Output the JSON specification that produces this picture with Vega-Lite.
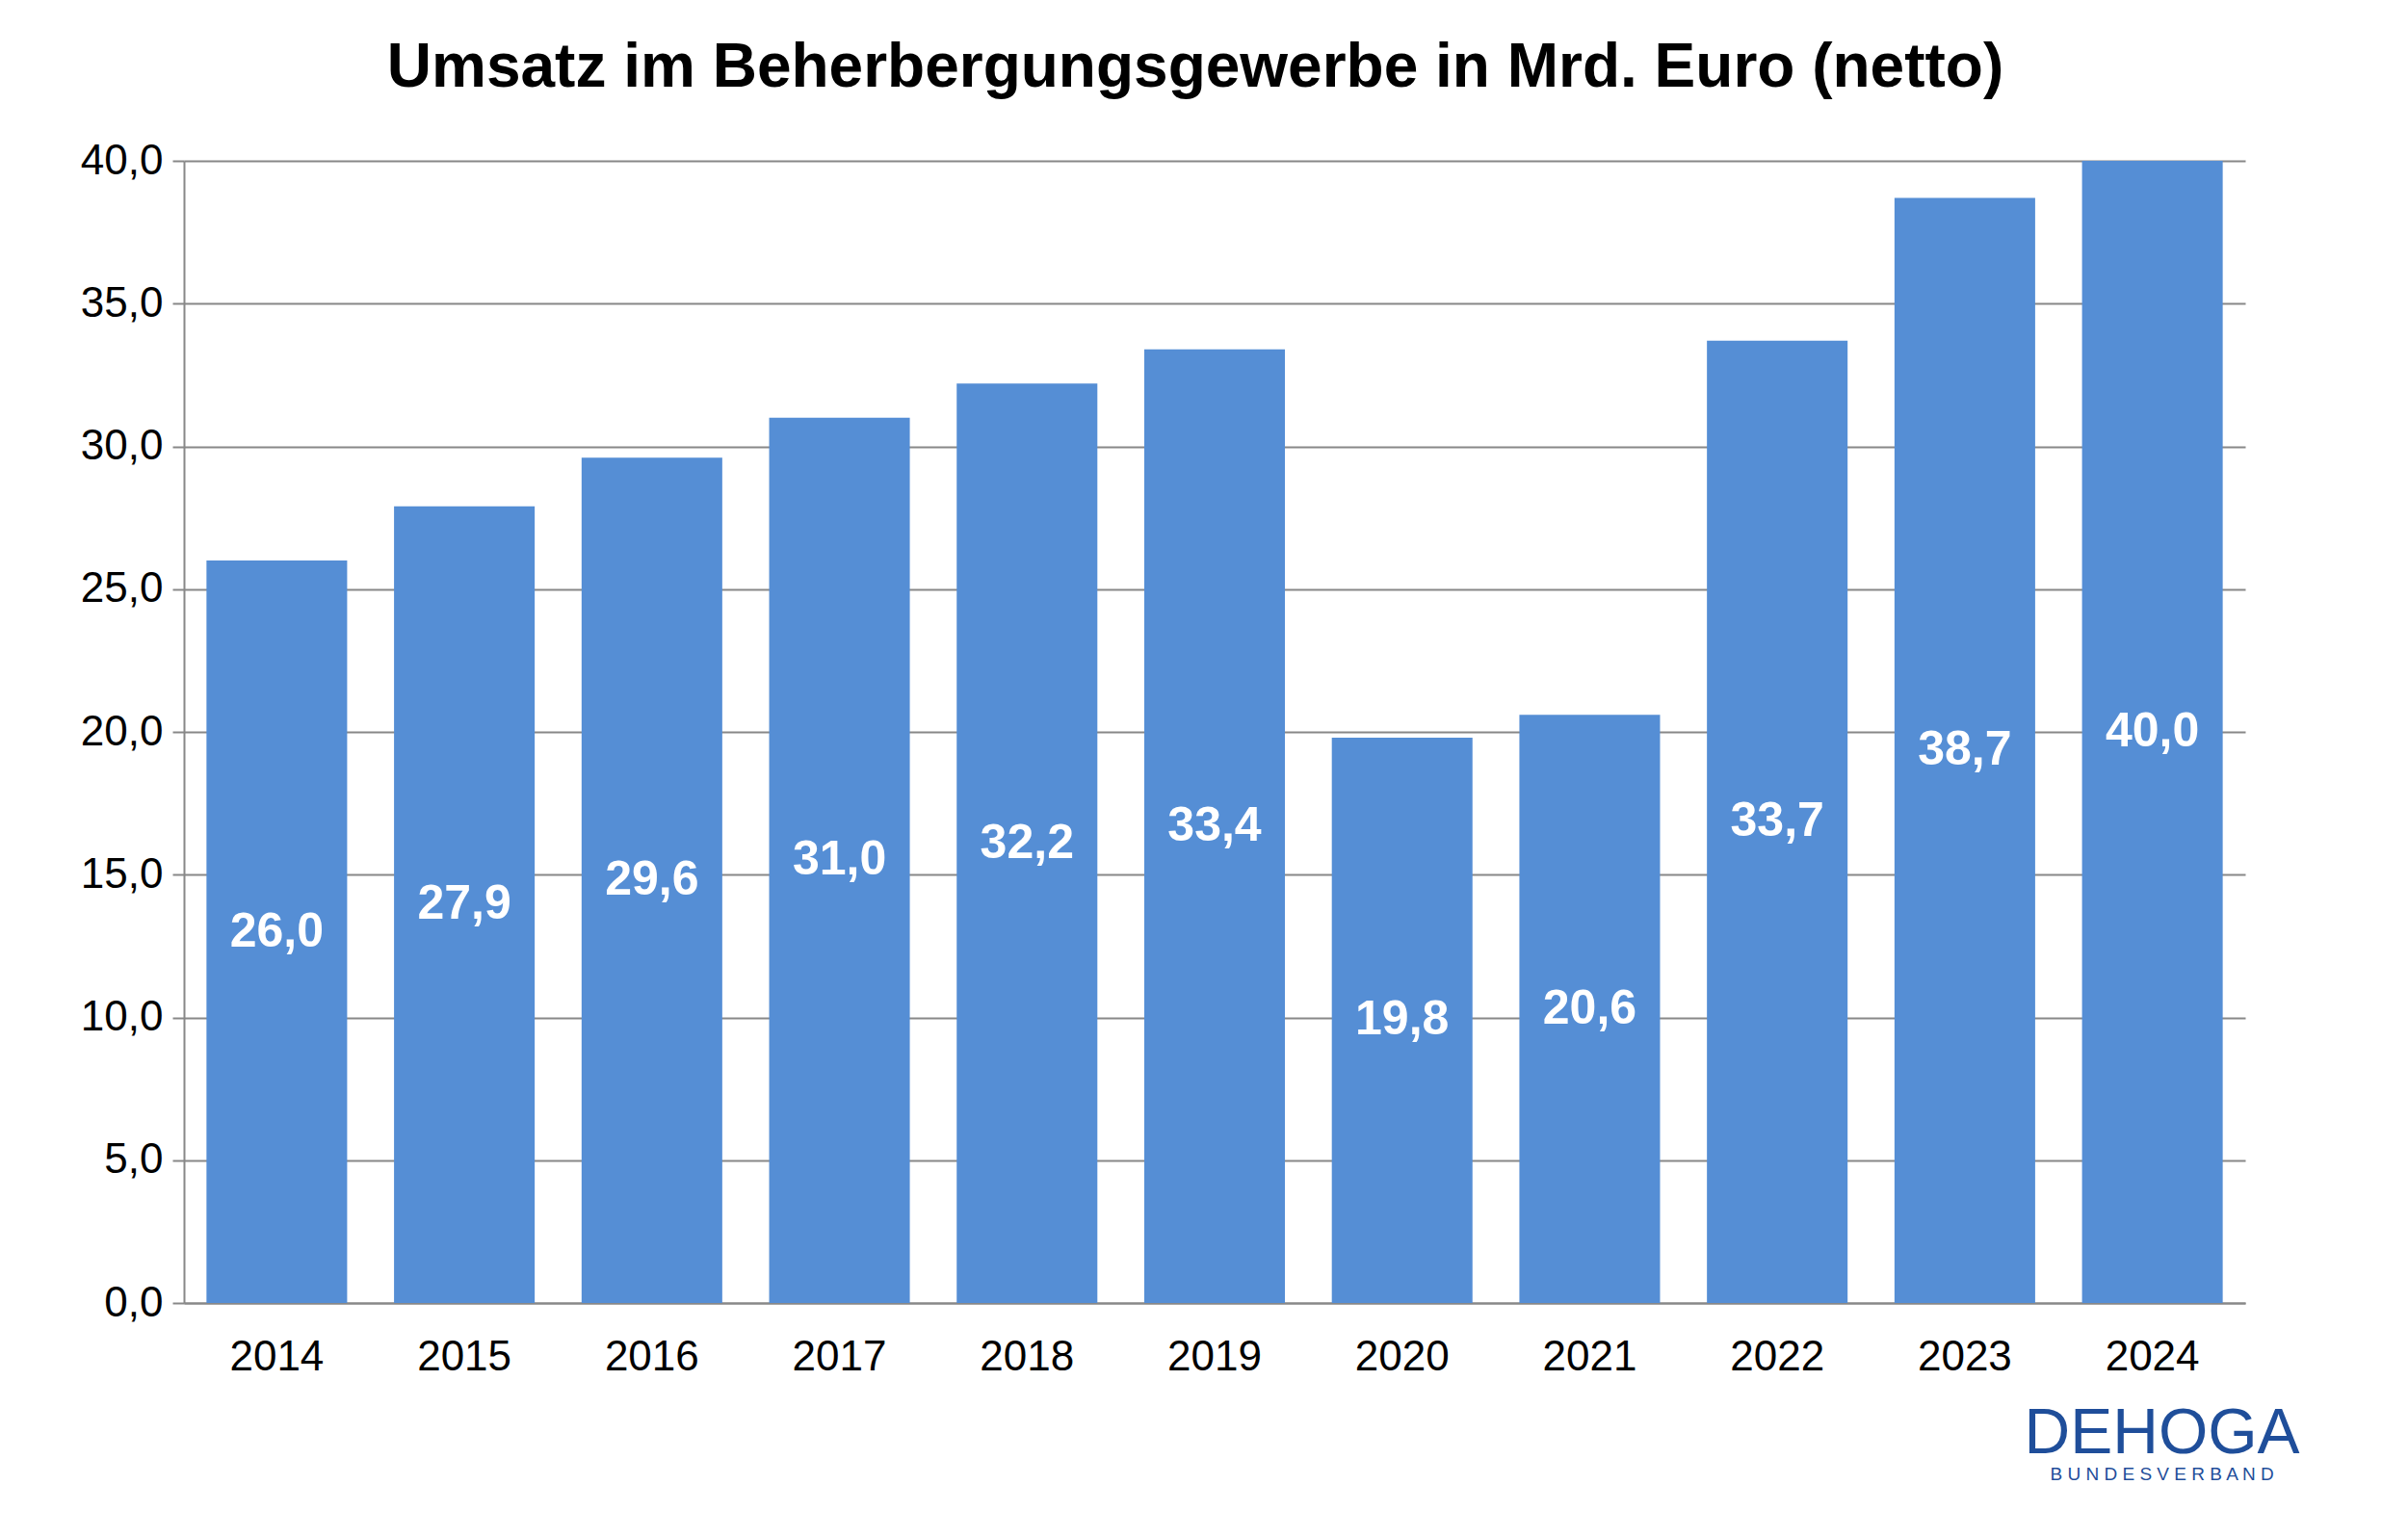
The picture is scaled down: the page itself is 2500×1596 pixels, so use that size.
{
  "$schema": "https://vega.github.io/schema/vega-lite/v6.json",
  "autosize": "none",
  "width": 2140,
  "height": 1186,
  "padding": {"left": 191, "top": 167, "right": 169, "bottom": 243},
  "background": "white",
  "config": {
    "locale": {"number": {"decimal": ",", "thousands": ".", "grouping": [3], "currency": ["", " €"]}},
    "font": "Liberation Sans",
    "view": {"stroke": null}
  },
  "title": {
    "text": "Umsatz im Beherbergungsgewerbe in Mrd. Euro (netto)",
    "fontSize": 64,
    "fontWeight": "bold",
    "color": "black",
    "offset": 42,
    "anchor": "middle",
    "dx": -20
  },
  "data": {
    "values": [
      {"jahr": "2014", "umsatz": 26.0},
      {"jahr": "2015", "umsatz": 27.9},
      {"jahr": "2016", "umsatz": 29.6},
      {"jahr": "2017", "umsatz": 31.0},
      {"jahr": "2018", "umsatz": 32.2},
      {"jahr": "2019", "umsatz": 33.4},
      {"jahr": "2020", "umsatz": 19.8},
      {"jahr": "2021", "umsatz": 20.6},
      {"jahr": "2022", "umsatz": 33.7},
      {"jahr": "2023", "umsatz": 38.7},
      {"jahr": "2024", "umsatz": 40.0}
    ]
  },
  "encoding": {
    "x": {
      "field": "jahr", "type": "ordinal",
      "scale": {"paddingInner": 0.25, "paddingOuter": 0.12},
      "axis": {"title": null, "labelAngle": 0, "labelFontSize": 44, "labelColor": "black", "labelPadding": 34, "domainColor": "#888888", "domainWidth": 2, "ticks": false}
    }
  },
  "layer": [
    {
      "mark": {"type": "bar", "color": "#558ED5"},
      "encoding": {
        "y": {
          "field": "umsatz", "type": "quantitative",
          "scale": {"domain": [0, 40], "nice": false},
          "axis": {"title": null, "values": [0, 5, 10, 15, 20, 25, 30, 35, 40], "format": ".1f", "labelFontSize": 44, "labelColor": "black", "labelPadding": 10, "gridColor": "#888888", "gridWidth": 2, "domainColor": "#888888", "domainWidth": 2, "tickColor": "#888888", "tickWidth": 2, "tickSize": 12}
        }
      }
    },
    {
      "transform": [{"calculate": "datum.umsatz / 2", "as": "mitte"}],
      "mark": {"type": "text", "color": "white", "fontWeight": "bold", "fontSize": 50},
      "encoding": {
        "y": {"field": "mitte", "type": "quantitative"},
        "text": {"field": "umsatz", "type": "quantitative", "format": ".1f"}
      }
    },
    {
      "data": {"values": [{"jahr": "2024", "t": "DEHOGA", "y": -4.6}]},
      "mark": {"type": "text", "color": "#1F4E9A", "fontSize": 66, "clip": false, "dx": 10},
      "encoding": {
        "x": {"field": "jahr", "type": "ordinal"},
        "y": {"field": "y", "type": "quantitative"},
        "text": {"field": "t"}
      }
    },
    {
      "data": {"values": [{"jahr": "2024", "t": "B U N D E S V E R B A N D", "y": -6.0}]},
      "mark": {"type": "text", "color": "#1F4E9A", "fontSize": 19, "clip": false, "dx": 10},
      "encoding": {
        "x": {"field": "jahr", "type": "ordinal"},
        "y": {"field": "y", "type": "quantitative"},
        "text": {"field": "t"}
      }
    }
  ]
}
